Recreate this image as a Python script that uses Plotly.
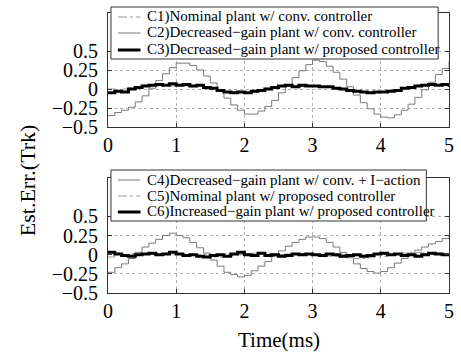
import plotly.graph_objects as go

# ---- data ----
t = [round(i * 0.1, 1) for i in range(51)]

c1 = [0.0, -0.02, 0.0, 0.02, 0.03, 0.05, 0.04, 0.06, 0.05, 0.04, 0.06, 0.04, 0.03, 0.03, 0.0, -0.01,
      -0.03, -0.04, -0.04, -0.05, -0.04, -0.04, -0.01, 0.01, 0.03, 0.04, 0.04, 0.05, 0.04, 0.05, 0.03,
      0.03, 0.02, 0.0, -0.01, -0.03, -0.04, -0.04, -0.04, -0.05, -0.03, -0.03, -0.01, 0.02, 0.03, 0.05,
      0.06, 0.07, 0.07, 0.05, 0.04]
c2 = [-0.35, -0.31, -0.28, -0.24, -0.17, -0.09, 0.01, 0.11, 0.20, 0.28, 0.34, 0.34, 0.31, 0.25, 0.17,
      0.08, -0.02, -0.12, -0.21, -0.28, -0.33, -0.33, -0.29, -0.23, -0.15, -0.05, 0.05, 0.15, 0.24,
      0.32, 0.38, 0.36, 0.30, 0.22, 0.13, 0.03, -0.08, -0.18, -0.26, -0.33, -0.37, -0.38, -0.34, -0.28,
      -0.20, -0.11, -0.01, 0.09, 0.19, 0.27, 0.36]
c3 = [-0.05, -0.03, -0.04, 0.0, 0.02, 0.04, 0.05, 0.06, 0.05, 0.07, 0.05, 0.06, 0.04, 0.05, 0.02, 0.01,
      -0.02, -0.04, -0.05, -0.04, -0.05, -0.03, -0.02, 0.0, 0.02, 0.04, 0.05, 0.03, 0.05, 0.04, 0.04,
      0.03, 0.03, 0.01, 0.0, -0.02, -0.03, -0.04, -0.05, -0.04, -0.04, -0.03, -0.02, 0.01, 0.02, 0.04,
      0.05, 0.06, 0.05, 0.06, 0.03]
c4 = [-0.23, -0.17, -0.12, -0.05, 0.03, 0.10, 0.15, 0.20, 0.25, 0.28, 0.25, 0.22, 0.16, 0.09, 0.02,
      -0.07, -0.15, -0.23, -0.26, -0.29, -0.27, -0.21, -0.15, -0.09, -0.02, 0.05, 0.11, 0.16, 0.20,
      0.23, 0.23, 0.21, 0.16, 0.10, 0.03, -0.04, -0.12, -0.18, -0.22, -0.24, -0.22, -0.17, -0.11,
      -0.05, 0.02, 0.06, 0.10, 0.14, 0.17, 0.21, 0.24]
c5 = [-0.03, 0.02, 0.0, 0.01, 0.02, 0.01, 0.0, 0.01, 0.02, 0.01, 0.0, 0.0, -0.01, -0.02, -0.02, -0.03,
      -0.03, -0.02, -0.01, 0.0, 0.01, 0.02, 0.01, 0.02, 0.01, 0.0, 0.01, 0.0, 0.01, 0.0, 0.0, -0.01,
      -0.02, -0.02, -0.03, -0.04, -0.05, -0.05, -0.04, -0.03, -0.02, -0.01, 0.0, 0.02, 0.03, 0.03,
      0.02, 0.02, 0.01, 0.0, -0.01]
c6 = [0.03, 0.01, -0.01, -0.02, 0.0, 0.01, 0.02, 0.0, 0.01, 0.03, 0.01, -0.01, 0.0, -0.02, -0.03, -0.01,
      0.0, -0.02, 0.01, 0.03, 0.0, -0.01, 0.02, -0.01, 0.0, -0.02, -0.01, 0.01, 0.0, 0.01, 0.0, -0.01,
      0.01, 0.0, -0.02, -0.01, 0.0, -0.02, -0.01, 0.01, 0.02, 0.0, 0.01, -0.01, 0.0, -0.02, 0.0, 0.02,
      0.01, 0.0, -0.02]

names_top = ["C1)Nominal plant w/ conv. controller",
             "C2)Decreased\u2212gain plant w/ conv. controller",
             "C3)Decreased\u2212gain plant w/ proposed controller"]
names_bot = ["C4)Decreased\u2212gain plant w/ conv. + I\u2212action",
             "C5)Nominal plant w/ proposed controller",
             "C6)Increased\u2212gain plant w/ proposed controller"]

x_ticks = [0, 1, 2, 3, 4, 5]
y_ticks = [-0.5, -0.25, 0, 0.25, 0.5]
y_ticktext = ["\u22120.5", "\u22120.25", "0", "0.25", "0.5"]

# ---- styles ----
FONT = "Liberation Serif, Times New Roman, Times, serif"
GRAY = "#7a7a7a"
styles = [
    dict(color="#9a9a9a", width=1, dash="dashdot"),
    dict(color=GRAY, width=1, dash="solid"),
    dict(color="black", width=3, dash="solid"),
]

W, H = 461, 353
L, R, T, B = 108, 7, 13, 60
pw, ph = W - L - R, H - T - B


def px(xp):
    return (xp - L) / pw


def py(yp):
    return (H - B - yp) / ph


fig = go.Figure()
series_top = [c1, c2, c3]
series_bot = [c4, c5, c6]
bot_styles = [styles[1], styles[0], styles[2]]
for s, st, nm in zip(series_top, styles, names_top):
    fig.add_trace(go.Scatter(x=t, y=s, mode="lines", line=dict(shape="hv", **st),
                             name=nm, xaxis="x", yaxis="y", showlegend=False))
for s, st, nm in zip(series_bot, bot_styles, names_bot):
    fig.add_trace(go.Scatter(x=t, y=s, mode="lines", line=dict(shape="hv", **st),
                             name=nm, xaxis="x2", yaxis="y2", showlegend=False))

axis_common = dict(showline=True, linecolor="#333", linewidth=1, mirror="ticks",
                   ticks="inside", ticklen=4, tickcolor="#333",
                   showgrid=True, gridcolor="#b0b0b0", griddash="dot", gridwidth=1,
                   zeroline=False, tickfont=dict(family=FONT, size=20, color="black"))

top_dom = [py(127), 1.0]
bot_dom = [0.0, py(178)]

fig.update_layout(
    width=W, height=H, margin=dict(l=L, r=R, t=T, b=B),
    paper_bgcolor="white", plot_bgcolor="white",
    xaxis=dict(domain=[0, 1], range=[0, 5], tickvals=x_ticks, anchor="y", **axis_common),
    yaxis=dict(domain=top_dom, range=[-0.5, 1.0], tickvals=y_ticks, ticktext=y_ticktext,
               anchor="x", ticklabelstandoff=5, **axis_common),
    xaxis2=dict(domain=[0, 1], range=[0, 5], tickvals=x_ticks, anchor="y2", **axis_common),
    yaxis2=dict(domain=bot_dom, range=[-0.5, 1.0], tickvals=y_ticks, ticktext=y_ticktext,
                anchor="x2", ticklabelstandoff=5, **axis_common),
    showlegend=False,
)

shapes = []
annotations = []


def add_legend(box, rows, names, sts):
    x0, y0, x1, y1 = box
    shapes.append(dict(type="rect", xref="paper", yref="paper", x0=px(x0), x1=px(x1),
                       y0=py(y1), y1=py(y0), line=dict(color="#333", width=1),
                       fillcolor="white", layer="above"))
    for yr, nm, st in zip(rows, names, sts):
        shapes.append(dict(type="line", xref="paper", yref="paper", x0=px(118), x1=px(141),
                           y0=py(yr), y1=py(yr), line=st, layer="above"))
        annotations.append(dict(xref="paper", yref="paper", x=px(146), y=py(yr), text=nm,
                                showarrow=False, xanchor="left", yanchor="middle",
                                font=dict(family=FONT, size=15, color="black")))


add_legend((111, 7, 443, 59), [17, 33, 50], names_top, styles)
add_legend((111, 170, 431, 221), [180, 196, 212], names_bot, bot_styles)

annotations.append(dict(xref="paper", yref="paper", x=px(26), y=py(180), text="Est.Err.(Trk)",
                        textangle=-90, showarrow=False, xanchor="center", yanchor="middle",
                        font=dict(family=FONT, size=22, color="black")))
annotations.append(dict(xref="paper", yref="paper", x=px(281), y=py(340), text="Time(ms)",
                        showarrow=False, xanchor="center", yanchor="middle",
                        font=dict(family=FONT, size=21, color="black")))

fig.update_layout(shapes=shapes, annotations=annotations)
fig.write_html("out.html")
